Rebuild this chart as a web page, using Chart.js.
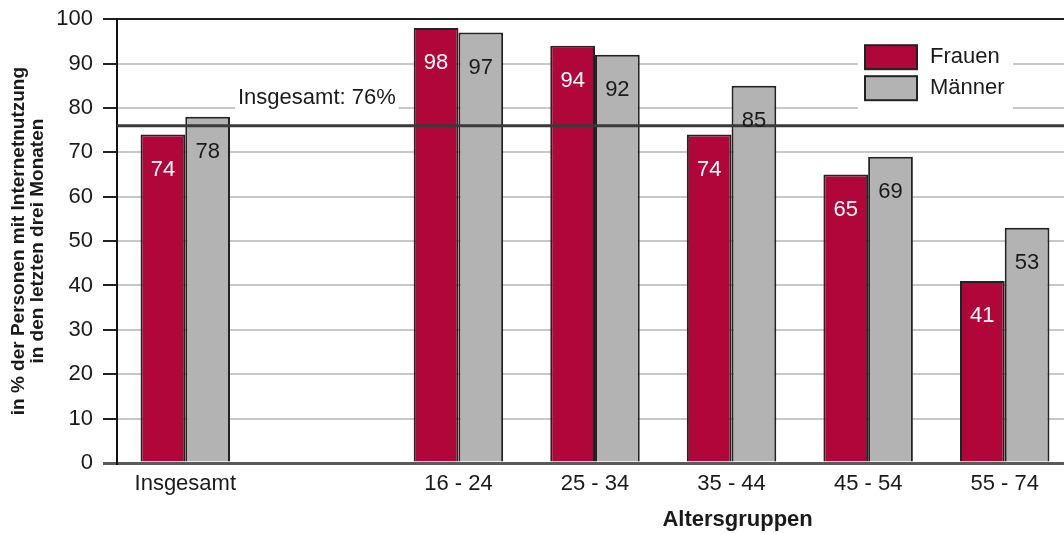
<!DOCTYPE html>
<html>
<head>
<meta charset="utf-8">
<script src="https://cdn.jsdelivr.net/npm/chart.js@4.4.1/dist/chart.umd.min.js"></script>
<style>
    html, body { margin: 0; padding: 0; overflow: hidden; background: #fff; }
    #wrap { position: relative; width: 1073px; height: 538px; margin-top: -4px; }
</style>
</head>
<body>
<div id="wrap"><canvas id="barChart"></canvas></div>
<script>
    // Altersgruppen (leere Kategorie als Abstand nach "Insgesamt")
    const gruppen = ['Insgesamt', '', '16 - 24', '25 - 34', '35 - 44', '45 - 54', '55 - 74'];
    const frauen = [74, null, 98, 94, 74, 65, 41];
    const maenner = [78, null, 97, 92, 85, 69, 53];
    const insgesamt = 76;
    const insgesamtText = 'Insgesamt: 76%';
    const yTitel = ['in % der Personen mit Internetnutzung', 'in den letzten drei Monaten'];
    const xTitel = 'Altersgruppen';

    const FONT = "'Liberation Sans', Arial, Helvetica, sans-serif";
    Chart.defaults.font.family = FONT;
    Chart.defaults.color = '#1a1a1a';

    /** Linie fuer den Gesamtwert mit Beschriftung */
    const linieInsgesamt = {
        id: 'linieInsgesamt',
        afterDatasetsDraw(chart) {
            const { ctx, chartArea, scales } = chart;
            const y = scales.y.getPixelForValue(insgesamt);
            ctx.save();
            ctx.strokeStyle = '#3a3a3a';
            ctx.lineWidth = 3;
            ctx.beginPath();
            ctx.moveTo(chartArea.left, y);
            ctx.lineTo(chartArea.right, y);
            ctx.stroke();

            ctx.font = '22px ' + FONT;
            const w = ctx.measureText(insgesamtText).width;
            const x = chartArea.left + 121;
            ctx.fillStyle = '#fff';
            ctx.fillRect(x - 3, y - 40, w + 6, 26);
            ctx.fillStyle = '#1a1a1a';
            ctx.textBaseline = 'middle';
            ctx.fillText(insgesamtText, x, y - 28);
            ctx.restore();
        }
    };

    /** Werte in den Balken */
    const balkenWerte = {
        id: 'balkenWerte',
        afterDatasetsDraw(chart) {
            const { ctx } = chart;
            ctx.save();
            ctx.font = '22px ' + FONT;
            ctx.textAlign = 'center';
            ctx.textBaseline = 'middle';
            chart.data.datasets.forEach((ds, i) => {
                chart.getDatasetMeta(i).data.forEach((bar, j) => {
                    const v = ds.data[j];
                    if (v == null) return;
                    ctx.fillStyle = i === 0 ? '#fff' : '#1a1a1a';
                    ctx.fillText(String(v), bar.x, bar.y + 35);
                });
            });
            ctx.restore();
        }
    };

    /** Legende oben rechts und Titel der x-Achse */
    const legendeUndTitel = {
        id: 'legendeUndTitel',
        afterDraw(chart) {
            const { ctx, chartArea, scales } = chart;
            const left = chartArea.right - 215;
            const top = chartArea.top + 22;
            ctx.save();
            ctx.fillStyle = '#fff';
            ctx.fillRect(left, top, 155, 68);
            ctx.font = '22px ' + FONT;
            ctx.textBaseline = 'middle';
            chart.data.datasets.forEach((ds, i) => {
                const sy = top + 4 + i * 31;
                ctx.fillStyle = ds.backgroundColor;
                ctx.fillRect(left + 7, sy, 52, 24);
                ctx.strokeStyle = '#222';
                ctx.lineWidth = 2;
                ctx.strokeRect(left + 7, sy, 52, 24);
                ctx.fillStyle = '#1a1a1a';
                ctx.fillText(ds.label, left + 72, sy + 12);
            });

            ctx.font = 'bold 22px ' + FONT;
            ctx.textAlign = 'center';
            ctx.fillText(xTitel, scales.x.getPixelForValue(4) + 6, chartArea.bottom + 57);
            ctx.restore();
        }
    };

    function generarBarChart() {
        new Chart(document.getElementById('barChart'), {
            type: 'bar',
            data: {
                labels: gruppen,
                datasets: [{
                    label: 'Frauen',
                    data: frauen,
                    backgroundColor: '#b0063a',
                    borderColor: '#222',
                    borderWidth: 2,
                    barPercentage: 1,
                    categoryPercentage: 0.655
                }, {
                    label: 'Männer',
                    data: maenner,
                    backgroundColor: '#b3b3b3',
                    borderColor: '#222',
                    borderWidth: 2,
                    barPercentage: 1,
                    categoryPercentage: 0.655
                }]
            },
            options: {
                responsive: true,
                maintainAspectRatio: false,
                animation: false,
                layout: { padding: { top: 14, right: 0, left: 0, bottom: 0 } },
                plugins: {
                    legend: { display: false },
                    tooltip: { enabled: false }
                },
                scales: {
                    x: {
                        grid: { display: false, drawTicks: false },
                        border: { color: '#5a5a5a', width: 3 },
                        ticks: { color: '#1a1a1a', font: { size: 22 }, padding: 8, maxRotation: 0, autoSkip: false },
                        afterFit: s => { s.height = 71; }
                    },
                    y: {
                        min: 0,
                        max: 100,
                        ticks: { stepSize: 10, color: '#1a1a1a', font: { size: 22 }, padding: 10 },
                        grid: {
                            color: c => c.tick.value === 100 ? '#222' : (c.tick.value === 0 ? '#5a5a5a' : '#c8c8c8'),
                            lineWidth: c => c.tick.value === 0 ? 3 : 2,
                            tickColor: c => c.tick.value === 0 ? '#5a5a5a' : '#222',
                            tickLength: 14
                        },
                        border: { color: '#111', width: 2 },
                        title: {
                            display: true,
                            text: yTitel,
                            color: '#1a1a1a',
                            font: { size: 19, weight: 'bold', lineHeight: 1 },
                            padding: { top: 9, bottom: 0 }
                        },
                        afterFit: s => { s.width = 117; }
                    }
                }
            },
            plugins: [linieInsgesamt, balkenWerte, legendeUndTitel]
        });
    }

    generarBarChart();
</script>
</body>
</html>
